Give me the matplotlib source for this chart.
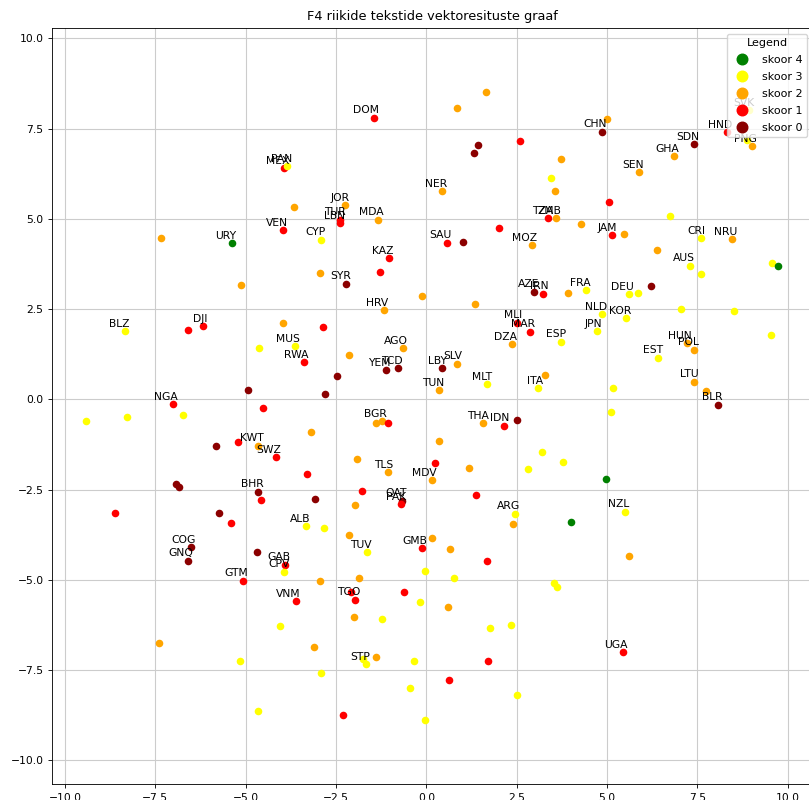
import matplotlib
matplotlib.use("Agg")
import matplotlib.pyplot as plt
from matplotlib.lines import Line2D

# country code ('' = unlabeled), x, y, score -- grouped in blocks of matching length
codes = (["DOM","","","","","","","","","NER","JOR","MDA","TUR","LBN","TZA","ZMB","MEX","PAN",""]
         + ["CHN","","","","SEN","GHA","SDN","HND","SVK","","PNG"]
         + ["","URY","VEN","","BLZ","","DJI","","","MUS","RWA","","NGA","","","",""]
         + ["CYP","SAU","","","MOZ","KAZ","","","SYR","","","HRV","AZE","IRN","","MLI","MAR","DZA","ESP"]
         + ["AGO","","YEM","TCD","","","LBY","SLV","TUN","MLT","ITA",""]
         + ["","JAM","","","CRI","NRU","AUS","","","","FRA","","DEU","","","","","NLD","KOR","JPN",""]
         + ["HUN","POL","EST","LTU","","BLR","",""]
         + ["KWT","","","SWZ","","","","","BHR","","","","","ALB","COG","GNQ","","GAB","CPV","GTM","VNM"]
         + ["BGR","","","","THA","IDN","","","","","TLS","","","MDV","","QAT","PAK","","","","ARG",""]
         + ["","","TUV","GMB","","","","","","","","","TGO","","","","","","","","NZL",""]
         + ["","","","","","","","","","","","STP","","","","","","","","","","UGA"])
xs = ([-1.44,0.86,1.66,1.44,1.32,2.60,3.73,3.46,3.55,0.43,-2.26,-1.33,-2.38,-2.39,3.37,3.59,-3.93,-3.85,-3.65]
      + [4.87,4.99,5.05,6.73,5.88,6.86,7.41,8.33,8.93,8.87,9.00]
      + [-7.34,-5.39,-3.97,-5.14,-8.34,-6.59,-6.19,-3.96,-4.63,-3.64,-3.39,-4.93,-7.02,-4.53,-6.73,-8.28,-9.42]
      + [-2.92,0.56,1.01,2.01,2.93,-1.04,-2.94,-1.29,-2.23,-0.12,1.35,-1.18,2.98,3.24,-2.85,2.52,2.87,2.38,3.73]
      + [-0.64,-2.15,-1.12,-0.79,-2.48,-2.80,0.42,0.85,0.36,1.69,3.09,3.29]
      + [4.29,5.13,5.48,6.38,7.59,8.47,7.29,7.59,9.56,9.74,4.42,3.91,5.60,5.87,6.22,7.05,8.51,4.86,5.53,4.72,9.54]
      + [7.21,7.40,6.42,7.41,7.75,8.07,5.16,5.12]
      + [-4.65,-5.20,-5.81,-4.17,-3.19,-3.30,-6.93,-6.84,-4.65,-4.58,-8.61,-5.75,-5.41,-3.34,-6.52,-6.60,-4.68,-3.91,-3.93,-5.07,-3.61]
      + [-1.23,-1.39,-1.05,0.36,1.58,2.16,2.52,3.21,2.81,-1.91,-1.05,0.23,1.17,0.16,-1.79,-0.67,-0.69,-3.08,-1.98,1.37,2.45,2.39]
      + [-2.84,-2.15,-1.64,-0.12,0.16,0.65,1.68,-0.04,0.77,-1.87,-2.93,-2.09,-1.97,-0.62,-0.17,0.59,3.52,3.61,3.79,4.97,5.49,3.99]
      + [5.62,-4.06,-7.41,-5.16,-4.65,-1.99,-1.22,1.75,2.35,-3.10,-1.76,-1.68,-1.40,-0.33,1.71,-2.92,0.63,-0.46,2.50,-2.31,-0.04,5.44])
ys = ([7.80,8.06,8.51,7.04,6.83,7.15,6.66,6.12,5.77,5.77,5.38,4.98,4.97,4.88,5.02,5.01,6.40,6.46,5.34]
      + [7.41,7.76,5.46,5.09,6.29,6.74,7.07,7.40,8.01,7.18,7.02]
      + [4.46,4.32,4.69,3.16,1.88,1.93,2.03,2.12,1.43,1.47,1.03,0.25,-0.14,-0.25,-0.43,-0.50,-0.61]
      + [4.42,4.34,4.36,4.75,4.27,3.91,3.49,3.52,3.20,2.86,2.63,2.47,2.98,2.92,2.00,2.12,1.87,1.53,1.60]
      + [1.41,1.23,0.81,0.86,0.65,0.15,0.86,0.98,0.25,0.42,0.30,0.66]
      + [4.86,4.55,4.59,4.14,4.46,4.43,3.70,3.47,3.78,3.68,3.02,2.95,2.91,2.94,3.14,2.50,2.45,2.35,2.24,1.88,1.77]
      + [1.55,1.37,1.15,0.49,0.24,-0.15,0.30,-0.34]
      + [-1.29,-1.19,-1.29,-1.60,-0.90,-2.08,-2.34,-2.42,-2.56,-2.78,-3.15,-3.15,-3.43,-3.52,-4.10,-4.47,-4.22,-4.59,-4.78,-5.03,-5.59]
      + [-0.60,-0.65,-0.66,-1.16,-0.66,-0.73,-0.57,-1.47,-1.94,-1.65,-2.02,-1.76,-1.90,-2.24,-2.54,-2.81,-2.91,-2.77,-2.92,-2.64,-3.17,-3.46]
      + [-3.57,-3.76,-4.24,-4.13,-3.83,-4.16,-4.49,-4.76,-4.96,-4.94,-5.03,-5.35,-5.55,-5.34,-5.61,-5.75,-5.08,-5.19,-1.73,-2.22,-3.11,-3.41]
      + [-4.34,-6.27,-6.76,-7.26,-8.64,-6.03,-6.08,-6.35,-6.26,-6.87,-7.20,-7.34,-7.15,-7.25,-7.25,-7.59,-7.78,-7.99,-8.19,-8.74,-8.88,-7.01])
scores = ([1,2,2,0,0,1,2,3,2,2,2,2,1,1,1,2,1,3,2]
          + [0,2,1,3,2,2,0,1,3,3,2]
          + [2,4,1,2,3,1,1,2,3,3,1,0,1,1,3,3,3]
          + [3,1,0,1,2,1,2,1,0,2,2,2,0,1,1,1,1,2,3]
          + [2,2,0,0,0,0,0,2,2,3,3,2]
          + [2,1,2,2,3,2,3,3,3,4,3,2,3,3,0,3,3,3,3,3,3]
          + [2,2,3,2,2,0,3,3]
          + [2,1,0,1,2,1,0,0,0,1,1,0,1,3,0,0,0,1,3,1,1]
          + [2,2,1,2,2,1,0,3,3,2,2,1,2,2,1,0,1,0,2,1,3,2]
          + [3,2,3,1,2,2,1,3,3,2,2,1,1,1,3,2,3,3,3,4,3,4]
          + [2,3,2,3,3,2,3,3,3,2,3,3,2,3,1,3,1,3,3,1,3,1])

score_colors = {4: "green", 3: "yellow", 2: "orange", 1: "red", 0: "darkred"}
legend_scores = [4, 3, 2, 1, 0]

FS = 7.75
fig = plt.figure(figsize=(8.09, 8.0), dpi=100)
ax = fig.add_axes([52.3/809, 16/800, (813-52.3)/809, (784-28.3)/800])

for c, x, y, s in zip(codes, xs, ys, scores):
    ax.scatter(x, y, s=30, color=score_colors[s], linewidths=0, zorder=2)
    if c:
        ax.annotate(c, (x, y), textcoords="offset points", xytext=(3.6, 3.2),
                    ha="right", va="baseline", fontsize=FS, color="black", zorder=3)

handles = [Line2D([], [], marker="o", linestyle="none", markersize=7.6,
                  markerfacecolor=score_colors[s], markeredgecolor=score_colors[s],
                  label=f"skoor {s}") for s in legend_scores]
leg = ax.legend(handles=handles, title="Legend", loc="upper right", fontsize=8.0,
                title_fontsize=8.0, framealpha=0.8, labelspacing=0.62)
leg.set_zorder(5)

ax.set_xlim(-10.35, 10.70)
ax.set_ylim(-10.66, 10.28)
ax.set_xticks([-10, -7.5, -5, -2.5, 0, 2.5, 5, 7.5, 10])
ax.set_yticks([-10, -7.5, -5, -2.5, 0, 2.5, 5, 7.5, 10])
ax.tick_params(labelsize=FS, width=0.62, length=2.7)
for sp in ax.spines.values():
    sp.set_linewidth(0.62)
ax.grid(True, color="#cccccc", linewidth=0.8, zorder=0)
ax.set_axisbelow(True)
ax.set_title("F4 riikide tekstide vektoresituste graaf", fontsize=9.3)

fig.savefig("out.png", dpi=100)
